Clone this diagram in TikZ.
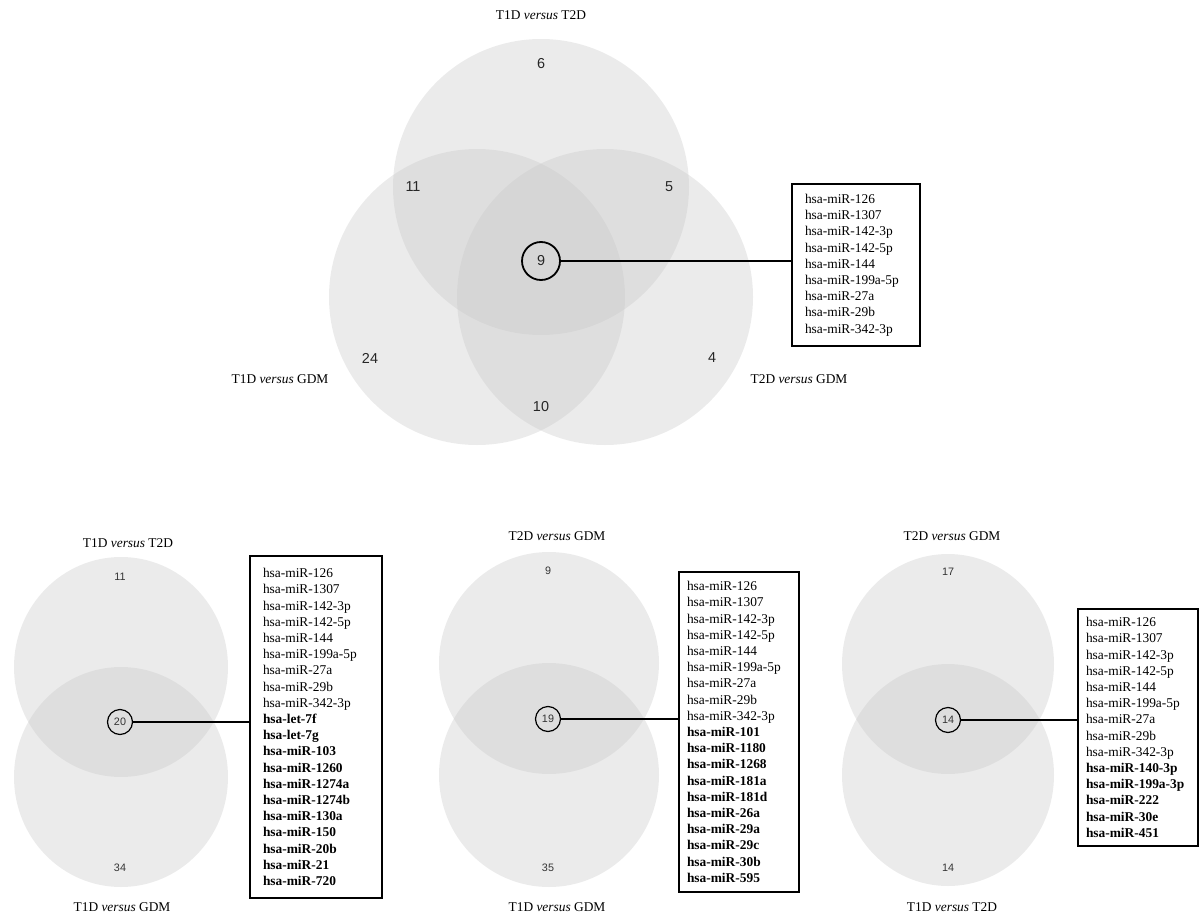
\documentclass[tikz,border=0pt]{standalone}
\usepackage{fontspec}
\setmainfont{Liberation Serif}
\newfontfamily\numfont{Liberation Sans}
\definecolor{venngray}{RGB}{200,200,200}
\begin{document}
\begin{tikzpicture}[x=0.5pt,y=-0.5pt,
  venn/.style={fill=venngray, fill opacity=0.36},
  lbl/.style={font=\fontsize{6.7}{8}\selectfont, inner sep=0},
  bignum/.style={font=\numfont\fontsize{7.2}{8}\selectfont, inner sep=0, text=black!85},
  smallnum/.style={font=\numfont\fontsize{5.4}{6}\selectfont, inner sep=0, text=black!80},
  hub/.style={circle, draw=black, inner sep=0},
  tophub/.style={hub, bignum, line width=0.9pt, minimum size=19pt},
  subhub/.style={hub, smallnum, line width=0.6pt, minimum size=12.5pt},
  list/.style={draw=black, line width=0.75pt, align=left, inner ysep=0, font=\fontsize{6.7}{8.1}\selectfont},
  link/.style={line width=1pt}]
\path[use as bounding box] (0,0) rectangle (1200,921);

% ---------------- top three-set Venn ----------------
\fill[venn] (541,187) circle (148);
\fill[venn] (477,297) circle (148);
\fill[venn] (605,297) circle (148);

\node[lbl] (t1) at (541,15) {T1D \textit{versus} T2D};
\node[lbl] (t2) at (280,379) {T1D \textit{versus} GDM};
\node[lbl] (t3) at (799,379) {T2D \textit{versus} GDM};

\node[bignum] (n6) at (541,64) {6};
\node[bignum] (n11) at (413,187) {11};
\node[bignum] (n5) at (669,187) {5};
\node[bignum] (n24) at (370,358) {24};
\node[bignum] (n4) at (712,358) {4};
\node[bignum] (n10) at (541,407) {10};
\node[tophub] (h9) at (541,261) {9};

\node[list, inner xsep=6.5pt, text width=51pt, minimum height=81pt] (b1) at (856,265)
 {hsa-miR-126\\hsa-miR-1307\\hsa-miR-142-3p\\hsa-miR-142-5p\\hsa-miR-144\\hsa-miR-199a-5p\\hsa-miR-27a\\hsa-miR-29b\\hsa-miR-342-3p};
\draw[link] (h9) -- (h9 -| b1.west);

% ---------------- bottom panel 1 ----------------
\fill[venn] (121,667) ellipse [x radius=107, y radius=110];
\fill[venn] (121,777) ellipse [x radius=107, y radius=110];
\node[lbl] (p1a) at (128,543) {T1D \textit{versus} T2D};
\node[lbl] (p1b) at (122,907) {T1D \textit{versus} GDM};
\node[smallnum] (p1n1) at (120,577) {11};
\node[smallnum] (p1n2) at (120,868) {34};
\node[subhub] (h20) at (120,722) {20};
\node[list, inner xsep=6.5pt, text width=53pt, minimum height=171pt] (b2) at (316,727)
 {hsa-miR-126\\hsa-miR-1307\\hsa-miR-142-3p\\hsa-miR-142-5p\\hsa-miR-144\\hsa-miR-199a-5p\\hsa-miR-27a\\hsa-miR-29b\\hsa-miR-342-3p\\
  \textbf{hsa-let-7f}\\\textbf{hsa-let-7g}\\\textbf{hsa-miR-103}\\\textbf{hsa-miR-1260}\\\textbf{hsa-miR-1274a}\\\textbf{hsa-miR-1274b}\\\textbf{hsa-miR-130a}\\\textbf{hsa-miR-150}\\\textbf{hsa-miR-20b}\\\textbf{hsa-miR-21}\\\textbf{hsa-miR-720}};
\draw[link] (h20) -- (h20 -| b2.west);

% ---------------- bottom panel 2 ----------------
\fill[venn] (549,663) ellipse [x radius=110, y radius=111];
\fill[venn] (549,775) ellipse [x radius=110, y radius=112];
\node[lbl] (p2a) at (557,536) {T2D \textit{versus} GDM};
\node[lbl] (p2b) at (557,907) {T1D \textit{versus} GDM};
\node[smallnum] (p2n1) at (548,571) {9};
\node[smallnum] (p2n2) at (548,868) {35};
\node[subhub] (h19) at (548,719) {19};
\node[list, inner xsep=4pt, text width=52pt, minimum height=160pt] (b3) at (739,732)
 {hsa-miR-126\\hsa-miR-1307\\hsa-miR-142-3p\\hsa-miR-142-5p\\hsa-miR-144\\hsa-miR-199a-5p\\hsa-miR-27a\\hsa-miR-29b\\hsa-miR-342-3p\\
  \textbf{hsa-miR-101}\\\textbf{hsa-miR-1180}\\\textbf{hsa-miR-1268}\\\textbf{hsa-miR-181a}\\\textbf{hsa-miR-181d}\\\textbf{hsa-miR-26a}\\\textbf{hsa-miR-29a}\\\textbf{hsa-miR-29c}\\\textbf{hsa-miR-30b}\\\textbf{hsa-miR-595}};
\draw[link] (h19) -- (h19 -| b3.west);

% ---------------- bottom panel 3 ----------------
\fill[venn] (948,664) ellipse [x radius=106, y radius=110];
\fill[venn] (948,775) ellipse [x radius=106, y radius=111];
\node[lbl] (p3a) at (952,536) {T2D \textit{versus} GDM};
\node[lbl] (p3b) at (952,907) {T1D \textit{versus} T2D};
\node[smallnum] (p3n1) at (948,572) {17};
\node[smallnum] (p3n2) at (948,868) {14};
\node[subhub] (h14) at (948,720) {14};
\node[list, inner xsep=4pt, text width=52pt, minimum height=118.5pt] (b4) at (1138,727.5)
 {hsa-miR-126\\hsa-miR-1307\\hsa-miR-142-3p\\hsa-miR-142-5p\\hsa-miR-144\\hsa-miR-199a-5p\\hsa-miR-27a\\hsa-miR-29b\\hsa-miR-342-3p\\
  \textbf{hsa-miR-140-3p}\\\textbf{hsa-miR-199a-3p}\\\textbf{hsa-miR-222}\\\textbf{hsa-miR-30e}\\\textbf{hsa-miR-451}};
\draw[link] (h14) -- (h14 -| b4.west);
\end{tikzpicture}
\end{document}
